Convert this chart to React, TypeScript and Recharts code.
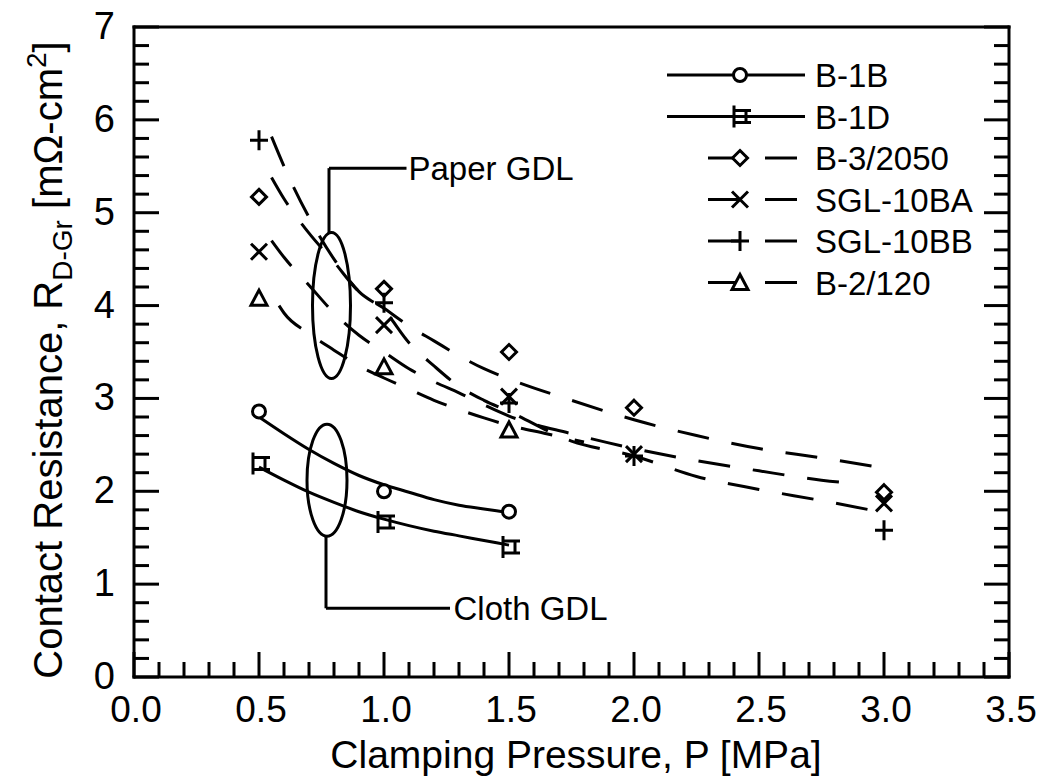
import React from 'react';
import { ComposedChart, Scatter, XAxis, YAxis, ReferenceLine, ReferenceDot, Legend } from 'recharts';

const FONT = '"Liberation Sans", Arial, Helvetica, sans-serif';
const W = 1041;
const H = 778;
// plot box: left 134, right 1009, top 27, bottom 677 (axes take 1px each)
const M = { top: 26, right: 31, bottom: 100, left: 133 };

// measured points (clamping pressure in MPa)
const pCloth = [0.5, 1.0, 1.5];
const pPaper = [0.5, 1.0, 1.5, 2.0, 3.0];
const pB2 = [0.5, 1.0, 1.5];

const rB1B = [2.86, 2.0, 1.78];
const rB1D = [2.3, 1.67, 1.4];
const rB3 = [5.17, 4.18, 3.5, 2.9, 1.99];
const rSGLA = [4.58, 3.79, 3.02, 2.4, 1.87];
const rSGLB = [5.78, 4.03, 2.95, 2.38, 1.58];
const rB2 = [4.08, 3.34, 2.66];

// fitted curves
const fitClothP = [0.5, 0.6, 0.7, 0.8, 0.9, 1.0, 1.1, 1.2, 1.3, 1.4, 1.5];
const fitB1B = [2.8, 2.62, 2.45, 2.3, 2.17, 2.07, 1.99, 1.91, 1.85, 1.81, 1.77];
const fitB1D = [2.26, 2.12, 1.99, 1.88, 1.78, 1.7, 1.63, 1.57, 1.52, 1.47, 1.42];

const fitPaperP = [0.55, 0.6, 0.7, 0.8, 0.9, 1.0, 1.1, 1.2, 1.3, 1.4, 1.5, 1.75, 2.0, 2.25, 2.5, 2.75, 3.0];
const fitB3 = [5.38, 5.15, 4.78, 4.47, 4.15, 3.97, 3.78, 3.62, 3.46, 3.32, 3.21, 2.98, 2.77, 2.6, 2.46, 2.36, 2.25];
const fitSGLB = [5.82, 5.5, 4.95, 4.5, 4.15, 3.95, 3.6, 3.35, 3.13, 2.98, 2.86, 2.54, 2.38, 2.16, 2.02, 1.9, 1.77];
const fitSGLAP = [0.55, 0.6, 0.7, 0.8, 0.9, 1.0, 1.1, 1.2, 1.3, 1.4, 1.5, 1.75, 2.0, 2.25, 2.5, 2.75, 2.9];
const fitSGLA = [4.7, 4.52, 4.22, 3.92, 3.68, 3.5, 3.32, 3.18, 3.06, 2.93, 2.81, 2.62, 2.46, 2.33, 2.22, 2.12, 2.08];
const fitB2P = [0.58, 0.6, 0.7, 0.8, 0.9, 1.0, 1.1, 1.2, 1.3, 1.4, 1.5, 1.65, 1.8];
const fitB2 = [4.0, 3.92, 3.7, 3.52, 3.35, 3.22, 3.1, 2.98, 2.88, 2.79, 2.71, 2.62, 2.53];

const seriesNames = ['B-1B', 'B-1D', 'B-3/2050', 'SGL-10BA', 'SGL-10BB', 'B-2/120'];
const seriesKinds = ['circle', 'square', 'diamond', 'cross', 'plus', 'triangle'];
const seriesDashed = [false, false, true, true, true, true];

const xTicks = Array.from({ length: 36 }, (_, i) => i / 10);
const yTicks = Array.from({ length: 36 }, (_, i) => i / 5);

const pts = (xs: number[], ys: number[]) => xs.map((x, i) => ({ x, y: ys[i] }));

const isMajorX = (v: number) => Math.abs(v * 2 - Math.round(v * 2)) < 1e-6;
const isMajorY = (v: number) => Math.abs(v - Math.round(v)) < 1e-6;

function Marker({ kind, cx, cy }: { kind: string; cx: number; cy: number }) {
  const s = { stroke: '#000', strokeWidth: 3, fill: '#fff' };
  switch (kind) {
    case 'circle':
      return <circle cx={cx} cy={cy} r={6.5} {...s} />;
    case 'square':
      return (
        <path
          d={`M${cx - 6},${cy - 11}V${cy + 11}M${cx - 6},${cy - 6}H${cx + 11}M${cx - 6},${cy + 6}H${cx + 11}M${cx + 6},${cy - 6}V${cy + 6}`}
          {...s}
          fill="none"
        />
      );
    case 'diamond':
      return <path d={`M${cx},${cy - 7.5}L${cx + 7.5},${cy}L${cx},${cy + 7.5}L${cx - 7.5},${cy}Z`} {...s} />;
    case 'cross':
      return <path d={`M${cx - 8},${cy - 8}L${cx + 8},${cy + 8}M${cx - 8},${cy + 8}L${cx + 8},${cy - 8}`} {...s} />;
    case 'plus':
      return <path d={`M${cx - 9},${cy}H${cx + 9}M${cx},${cy - 10}V${cy + 10}`} {...s} />;
    default:
      return <path d={`M${cx},${cy - 8}L${cx + 8},${cy + 7}L${cx - 8},${cy + 7}Z`} {...s} />;
  }
}

const markerShape = (kind: string) => (p: any) => <Marker kind={kind} cx={p.cx} cy={p.cy} />;
const noShape = () => <g />;

const solidLine = { stroke: '#000', strokeWidth: 3 };
const dashLine = { stroke: '#000', strokeWidth: 3, strokeDasharray: '32 23' };
const frameLine = { stroke: '#000', strokeWidth: 3, strokeLinecap: 'square' as const };

function XTick(props: any) {
  const { x, y, payload, side } = props;
  const v = payload.value;
  const major = isMajorX(v);
  const len = major ? 25 : 15;
  const dir = side === 'bottom' ? -1 : 1;
  return (
    <g>
      <line x1={x} x2={x} y1={y} y2={y + dir * len} stroke="#000" strokeWidth={3} />
      {side === 'bottom' && major && (
        <text x={x + 2} y={y + 45} textAnchor="middle" fontSize={37} fontFamily={FONT} fill="#000">
          {v.toFixed(1)}
        </text>
      )}
    </g>
  );
}

function YTick(props: any) {
  const { x, y, payload, side } = props;
  const v = payload.value;
  const major = isMajorY(v);
  const len = major ? 25 : 15;
  const dir = side === 'left' ? 1 : -1;
  return (
    <g>
      <line x1={x} x2={x + dir * len} y1={y} y2={y} stroke="#000" strokeWidth={3} />
      {side === 'left' && major && (
        <text x={x - 19} y={y + 12} textAnchor="end" fontSize={38} fontFamily={FONT} fill="#000">
          {Math.round(v)}
        </text>
      )}
    </g>
  );
}

const renderLegend = () => (
  <svg width={340} height={250}>
    {seriesNames.map((name, i) => {
      const cy = 25 + i * 41.5;
      return (
        <g key={name}>
          {seriesDashed[i] ? (
            <>
              <line x1={58} x2={90} y1={cy} y2={cy} stroke="#000" strokeWidth={3} />
              <line x1={115} x2={147} y1={cy} y2={cy} stroke="#000" strokeWidth={3} />
            </>
          ) : (
            <line x1={17} x2={155} y1={cy} y2={cy} stroke="#000" strokeWidth={3} />
          )}
          <Marker kind={seriesKinds[i]} cx={90} cy={cy} />
          <text x={165} y={cy + 12} fontSize={33} fontFamily={FONT} fill="#000">
            {name}
          </text>
        </g>
      );
    })}
  </svg>
);

const xTitle = () => (
  <text x={576} y={768} textAnchor="middle" fontSize={39} fontFamily={FONT} fill="#000">
    Clamping Pressure, P [MPa]
  </text>
);

const yTitle = () => (
  <text transform="translate(62,360) rotate(-90)" x={0} y={0} textAnchor="middle" fontSize={40} fontFamily={FONT} fill="#000">
    Contact Resistance, R
    <tspan dy={10} fontSize={28}>D-Gr</tspan>
    <tspan dy={-10}>{'  [m\u03A9-cm'}</tspan>
    <tspan dy={-16} fontSize={28}>2</tspan>
    <tspan dy={16}>]</tspan>
  </text>
);

const ellipseShape = (rx: number, ry: number) => (p: any) => (
  <ellipse cx={p.cx} cy={p.cy} rx={rx} ry={ry} fill="none" stroke="#000" strokeWidth={3} />
);
const textShape = (label: string) => (p: any) => (
  <text x={p.cx + 2} y={p.cy + 12} fontSize={33} fontFamily={FONT} fill="#000">
    {label}
  </text>
);

export default function App() {
  return (
    <div style={{ position: 'absolute', left: 0, top: 0, width: W, height: H, background: '#fff' }}>
      <ComposedChart width={W} height={H} margin={M}>
        <XAxis
          xAxisId={0}
          type="number"
          dataKey="x"
          domain={[0, 3.5]}
          allowDataOverflow
          ticks={xTicks}
          interval={0}
          height={1}
          tickSize={0}
          tickMargin={0}
          tickLine={false}
          axisLine={frameLine}
          tick={<XTick side="bottom" />}
          label={{ content: xTitle }}
        />
        <XAxis
          xAxisId="top"
          orientation="top"
          type="number"
          domain={[0, 3.5]}
          allowDataOverflow
          ticks={xTicks}
          interval={0}
          height={1}
          tickSize={0}
          tickMargin={0}
          tickLine={false}
          axisLine={frameLine}
          tick={<XTick side="top" />}
        />
        <YAxis
          yAxisId={0}
          type="number"
          dataKey="y"
          domain={[0, 7]}
          allowDataOverflow
          ticks={yTicks}
          interval={0}
          width={1}
          tickSize={0}
          tickMargin={0}
          tickLine={false}
          axisLine={frameLine}
          tick={<YTick side="left" />}
          label={{ content: yTitle }}
        />
        <YAxis
          yAxisId="right"
          orientation="right"
          type="number"
          domain={[0, 7]}
          allowDataOverflow
          ticks={yTicks}
          interval={0}
          width={1}
          tickSize={0}
          tickMargin={0}
          tickLine={false}
          axisLine={frameLine}
          tick={<YTick side="right" />}
        />

        {/* fitted curves */}
        <Scatter data={pts(fitClothP, fitB1B)} line={solidLine} lineJointType="monotoneX" shape={noShape} isAnimationActive={false} />
        <Scatter data={pts(fitClothP, fitB1D)} line={solidLine} lineJointType="monotoneX" shape={noShape} isAnimationActive={false} />
        <Scatter data={pts(fitPaperP, fitB3)} line={dashLine} lineJointType="monotoneX" shape={noShape} isAnimationActive={false} />
        <Scatter data={pts(fitSGLAP, fitSGLA)} line={dashLine} lineJointType="monotoneX" shape={noShape} isAnimationActive={false} />
        <Scatter data={pts(fitPaperP, fitSGLB)} line={dashLine} lineJointType="monotoneX" shape={noShape} isAnimationActive={false} />
        <Scatter data={pts(fitB2P, fitB2)} line={dashLine} lineJointType="monotoneX" shape={noShape} isAnimationActive={false} />

        {/* measured points */}
        <Scatter name="B-1B" data={pts(pCloth, rB1B)} shape={markerShape('circle')} isAnimationActive={false} />
        <Scatter name="B-1D" data={pts(pCloth, rB1D)} shape={markerShape('square')} isAnimationActive={false} />
        <Scatter name="B-3/2050" data={pts(pPaper, rB3)} shape={markerShape('diamond')} isAnimationActive={false} />
        <Scatter name="SGL-10BA" data={pts(pPaper, rSGLA)} shape={markerShape('cross')} isAnimationActive={false} />
        <Scatter name="SGL-10BB" data={pts(pPaper, rSGLB)} shape={markerShape('plus')} isAnimationActive={false} />
        <Scatter name="B-2/120" data={pts(pB2, rB2)} shape={markerShape('triangle')} isAnimationActive={false} />

        {/* Paper / Cloth GDL annotations */}
        <ReferenceDot x={0.79} y={4.0} shape={ellipseShape(19, 73)} />
        <ReferenceLine segment={[{ x: 0.78, y: 4.78 }, { x: 0.78, y: 5.48 }]} stroke="#000" strokeWidth={3} />
        <ReferenceLine segment={[{ x: 0.78, y: 5.48 }, { x: 1.09, y: 5.48 }]} stroke="#000" strokeWidth={3} />
        <ReferenceDot x={1.09} y={5.48} shape={textShape('Paper GDL')} />

        <ReferenceDot x={0.772} y={2.12} shape={ellipseShape(20, 56)} />
        <ReferenceLine segment={[{ x: 0.768, y: 1.52 }, { x: 0.768, y: 0.74 }]} stroke="#000" strokeWidth={3} />
        <ReferenceLine segment={[{ x: 0.768, y: 0.74 }, { x: 1.264, y: 0.74 }]} stroke="#000" strokeWidth={3} />
        <ReferenceDot x={1.27} y={0.74} shape={textShape('Cloth GDL')} />

        <Legend
          layout="vertical"
          align="center"
          verticalAlign="middle"
          content={renderLegend}
          wrapperStyle={{ position: 'absolute', left: 650, top: 50, width: 340, height: 250 }}
        />
      </ComposedChart>
    </div>
  );
}
